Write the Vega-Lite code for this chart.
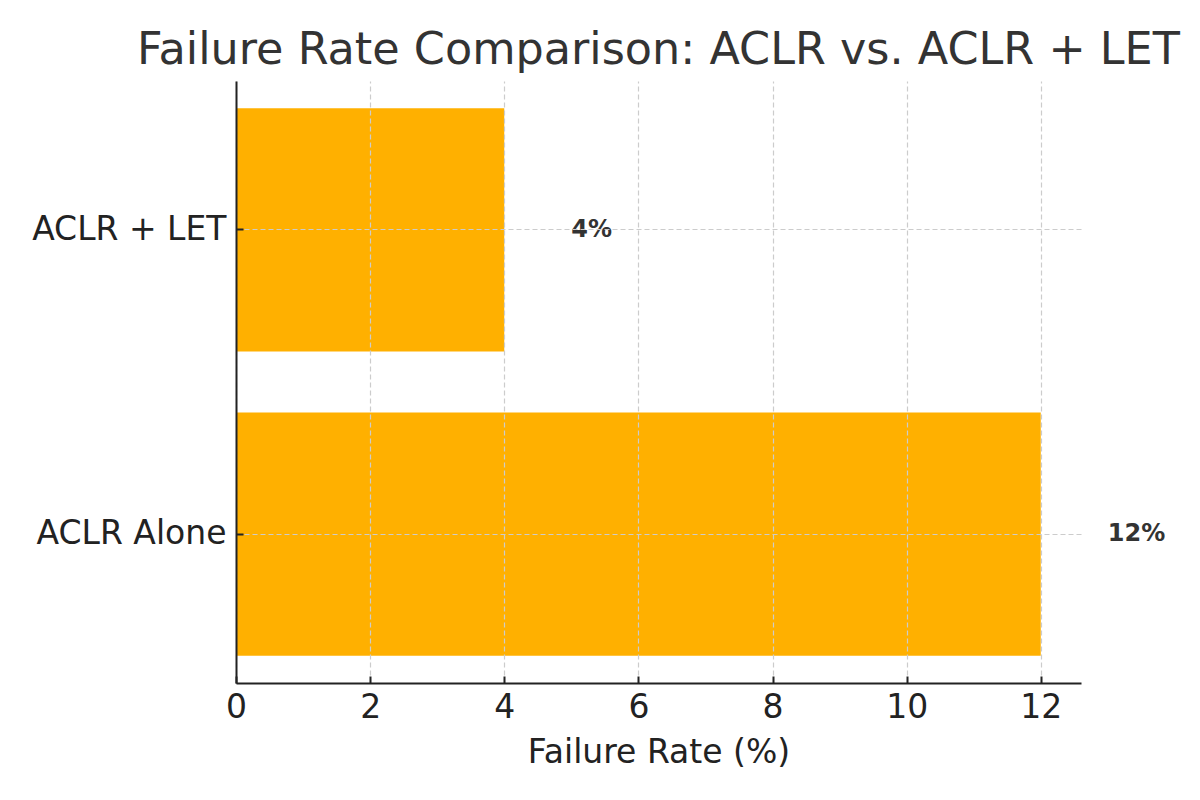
{
  "$schema": "https://vega.github.io/schema/vega-lite/v6.json",
  "autosize": {"type": "none"},
  "width": 845,
  "height": 602,
  "padding": {"left": 236, "top": 81, "right": 119, "bottom": 117},
  "background": "white",
  "config": {
    "view": {"stroke": null},
    "font": "DejaVu Sans"
  },
  "title": {
    "text": "Failure Rate Comparison: ACLR vs. ACLR + LET",
    "fontSize": 44.5,
    "fontWeight": "normal",
    "color": "#333333",
    "font": "DejaVu Sans",
    "anchor": "middle",
    "offset": 8
  },
  "data": {
    "values": [
      {"group": "ACLR Alone", "rate": 12},
      {"group": "ACLR + LET", "rate": 4}
    ]
  },
  "transform": [{"calculate": "datum.rate + '%'", "as": "label"}],
  "encoding": {
    "y": {
      "field": "group",
      "type": "nominal",
      "sort": ["ACLR + LET", "ACLR Alone"],
      "scale": {"paddingInner": 0.2, "paddingOuter": 0.09},
      "axis": {
        "title": null,
        "labelFontSize": 33,
        "labelColor": "#222222",
        "labelFont": "DejaVu Sans",
        "labelLimit": 500,
        "labelPadding": 17,
        "tickSize": -7,
        "tickWidth": 2,
        "tickColor": "#222222",
        "domainColor": "#222222",
        "domainWidth": 2,
        "grid": true,
        "bandPosition": 0.5,
        "gridColor": "#cccccc",
        "gridDash": [5, 3],
        "gridWidth": 1.2,
        "zindex": 1
      }
    },
    "x": {
      "field": "rate",
      "type": "quantitative",
      "scale": {"domain": [0, 12.6], "nice": false, "zero": true},
      "axis": {
        "title": "Failure Rate (%)",
        "titleFontSize": 33,
        "titleFontWeight": "normal",
        "titleColor": "#222222",
        "titlePadding": 12,
        "values": [0, 2, 4, 6, 8, 10, 12],
        "format": "d",
        "labelFlush": false,
        "labelFontSize": 33,
        "labelColor": "#222222",
        "labelPadding": 15,
        "tickSize": -7,
        "tickWidth": 2,
        "tickColor": "#222222",
        "domainColor": "#222222",
        "domainWidth": 2,
        "grid": true,
        "gridColor": "#cccccc",
        "gridDash": [5, 3],
        "gridWidth": 1.2,
        "zindex": 1
      }
    }
  },
  "layer": [
    {"mark": {"type": "bar", "color": "#FFB000"}},
    {
      "mark": {
        "type": "text",
        "align": "left",
        "baseline": "middle",
        "dx": 67,
        "fontSize": 24,
        "fontWeight": "bold",
        "color": "#333333",
        "font": "DejaVu Sans"
      },
      "encoding": {"text": {"field": "label"}}
    }
  ]
}
